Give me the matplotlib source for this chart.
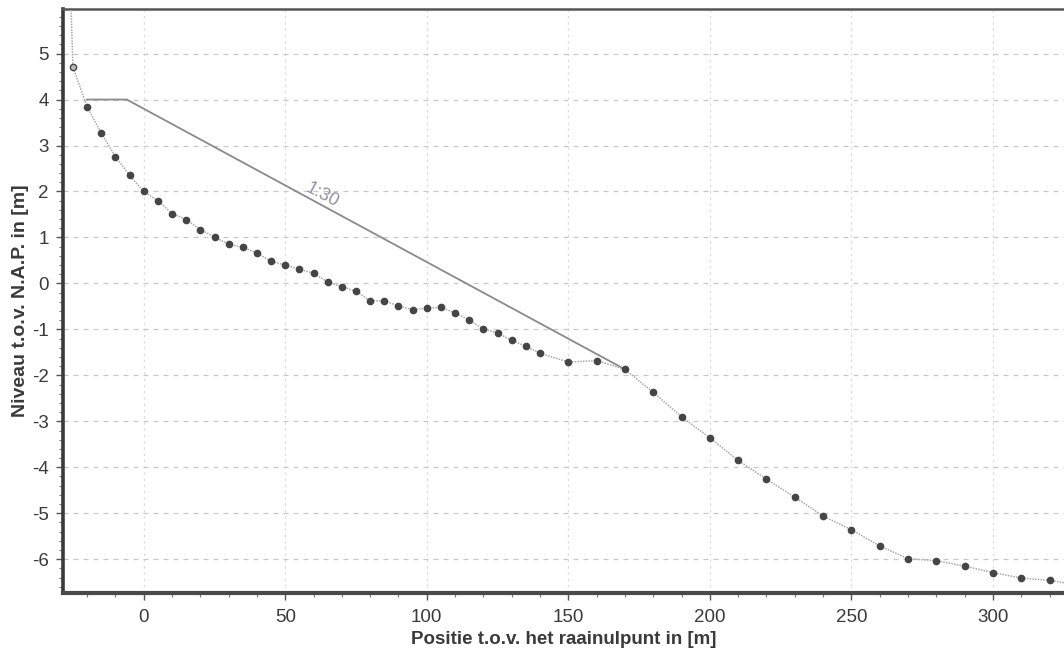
import matplotlib
matplotlib.use("Agg")
import matplotlib.pyplot as plt
from matplotlib.ticker import MultipleLocator

plt.rcParams['font.family'] = ['Liberation Sans', 'DejaVu Sans']
plt.rcParams['axes.unicode_minus'] = False

# gemeten dwarsprofiel (positie [m], niveau [m NAP])
pos = [-26.5, -25, -20, -15, -10, -5, 0, 5, 10, 15, 20, 25, 30, 35, 40, 45, 50,
       55, 60, 65, 70, 75, 80, 85, 90, 95, 100, 105, 110, 115, 120, 125, 130,
       135, 140, 150, 160, 170, 180, 190, 200, 210, 220, 230, 240, 250, 260,
       270, 280, 290, 300, 310, 320, 330]
niveau = [7.5, 4.71, 3.84, 3.27, 2.76, 2.35, 2.00, 1.80, 1.52, 1.39, 1.17, 1.01,
          0.85, 0.79, 0.66, 0.48, 0.40, 0.31, 0.22, 0.03, -0.07, -0.17, -0.38,
          -0.38, -0.49, -0.57, -0.54, -0.52, -0.64, -0.80, -0.99, -1.08, -1.24,
          -1.37, -1.52, -1.71, -1.68, -1.87, -2.37, -2.90, -3.36, -3.85, -4.26,
          -4.65, -5.06, -5.36, -5.71, -5.99, -6.03, -6.15, -6.29, -6.41, -6.46,
          -6.56]

# ontwerptalud 1:30
talud_x = [-20, -6, 170]
talud_y = [4.0, 4.0, -1.87]

fig = plt.figure(figsize=(10.64, 6.55), dpi=100)
ax = fig.add_axes([0.059, 0.095, 0.941, 0.892])

ax.set_xlim(-28.6, 325.1)
ax.set_ylim(-6.73, 5.98)

ax.plot(pos, niveau, color='#a8a8a8', lw=1.1, ls=(0, (1, 0.8)), zorder=3)
ax.plot(pos[2:], niveau[2:], ls='none', marker='o', ms=4.5,
        mfc='#454545', mec='#454545', zorder=4)
ax.plot(pos[1], niveau[1], ls='none', marker='o', ms=4.5,
        mfc='#bbbbbb', mec='#454545', mew=1.0, zorder=4)

ax.plot(talud_x, talud_y, color='#8a8a8a', lw=1.3, zorder=2)
ax.text(63, 1.92, '1:30', color='#9090a0', fontsize=13, rotation=-28,
        ha='center', va='center', rotation_mode='anchor')

ax.xaxis.set_major_locator(MultipleLocator(50))
ax.xaxis.set_minor_locator(MultipleLocator(10))
ax.yaxis.set_major_locator(MultipleLocator(1))
ax.yaxis.set_minor_locator(MultipleLocator(0.2))

ax.grid(axis='y', which='major', color='#c8c8c8', lw=0.9, ls=(0, (4, 4)))
ax.grid(axis='x', which='major', color='#dddddd', lw=0.9, ls=(0, (2, 3)))

ax.tick_params(which='major', length=5, width=1, color='#555555',
               labelsize=13.5, labelcolor='#3a3a3a', pad=7)
ax.tick_params(which='minor', length=3, width=0.8, color='#777777')
ax.tick_params(axis='y', which='major', pad=5)

ax.spines['right'].set_visible(False)
ax.spines['left'].set_color('#3a3a3a')
ax.spines['left'].set_linewidth(2.6)
ax.spines['bottom'].set_color('#4a4a4a')
ax.spines['bottom'].set_linewidth(3.0)
ax.spines['top'].set_color('#555555')
ax.spines['top'].set_linewidth(1.8)

ax.set_xlabel('Positie t.o.v. het raainulpunt in [m]', fontsize=13.5,
              fontweight='bold', color='#3a3a3a')
ax.set_ylabel('Niveau t.o.v. N.A.P. in [m]', fontsize=14,
              fontweight='bold', color='#3a3a3a')
ax.xaxis.set_label_coords(0.5, -0.065)
ax.yaxis.set_label_coords(-0.034, 0.5)

fig.savefig('out.png', dpi=100)
